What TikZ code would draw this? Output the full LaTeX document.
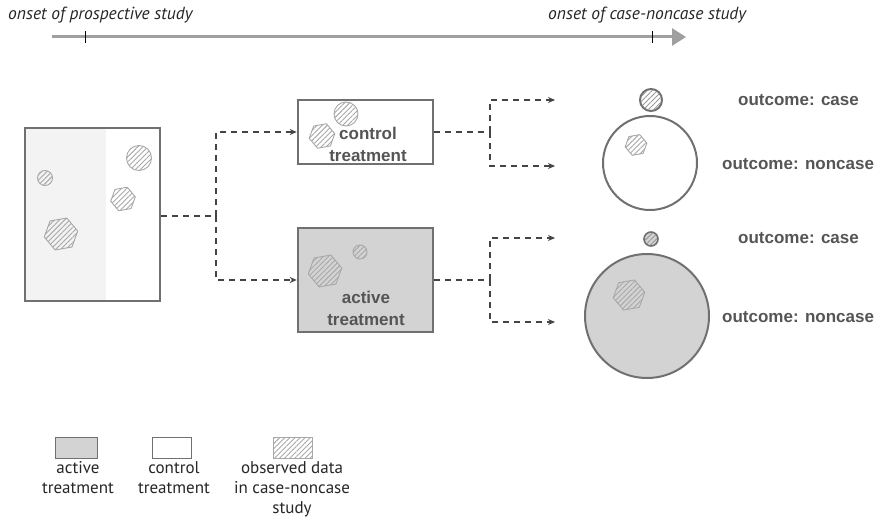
\documentclass[tikz,border=0pt]{standalone}
\usepackage{fontspec}
\setmainfont{Liberation Sans}
\newfontfamily\legfont{PT Sans}
\usetikzlibrary{shapes.geometric,patterns.meta,arrows.meta}
\definecolor{bordc}{HTML}{707070}
\definecolor{actfill}{HTML}{D3D3D3}
\definecolor{leftfill}{HTML}{F3F3F3}
\definecolor{txtc}{HTML}{555555}
\definecolor{dashc}{HTML}{444444}
\definecolor{hatchc}{HTML}{A8A8A8}
\tikzset{
  treatbox/.style={draw=bordc, line width=2.6pt, inner sep=0pt},
  hatched/.style={draw=hatchc, line width=0.9pt, pattern={Lines[angle=45,distance=3.6pt,line width=0.9pt]}, pattern color=hatchc},
  hexa/.style={hatched, regular polygon, regular polygon sides=6, inner sep=0pt, shape border rotate=10},
  blob/.style={hatched, circle, inner sep=0pt},
  outc/.style={draw=bordc, line width=2pt, circle, inner sep=0pt},
  conn/.style={draw=dashc, line width=1.1pt, dash pattern=on 6pt off 5pt},
  arr/.style={conn, -{Stealth[length=7pt,width=6pt]}},
  lbl/.style={text=txtc, font=\fontsize{17}{20}\selectfont\bfseries, inner sep=0pt},
  boxtxt/.style={text=txtc, font=\fontsize{17}{22}\selectfont\bfseries, align=center, inner sep=0pt},
  legtxt/.style={font=\legfont\fontsize{17}{20}\selectfont, align=center, inner sep=0pt, anchor=north, text=black!85},
  timetxt/.style={font=\legfont\itshape\fontsize{17.5}{20}\selectfont, inner sep=0pt, anchor=west, text=black!85},
  legbox/.style={draw=bordc, line width=1pt, minimum width=42pt, minimum height=21pt, inner sep=0pt}
}
\begin{document}
\begin{tikzpicture}[x=1pt,y=-1pt]
\useasboundingbox (0,0) rectangle (882,529);
% timeline
\node[timetxt] (t1) at (8,15) {onset of prospective study};
\node[timetxt] (t2) at (548,15) {onset of case-noncase study};
\coordinate (tl0) at (52,37);
\coordinate (tl1) at (686,37);
\draw[draw=gray!75, line width=3pt, -{Triangle[length=14pt,width=17pt]}] (tl0) -- (tl1);
\draw[line width=0.8pt] (85,31) -- (85,43);
\draw[line width=0.8pt] (652,31) -- (652,43);
% source box
\fill[leftfill] (25,128) rectangle (106,301);
\node[treatbox, minimum width=135pt, minimum height=173pt] (src) at (92.5,214.5) {};
\node[blob, minimum size=15pt] (s1) at (45,178) {};
\node[blob, minimum size=25pt] (s2) at (139,158) {};
\node[hexa, minimum size=25pt] (s3) at (123,199) {};
\node[hexa, minimum size=34pt] (s4) at (61,234) {};
% control box
\node[treatbox, fill=white, minimum width=135pt, minimum height=64pt] (ctrl) at (365.5,132) {};
\node[blob, minimum size=24pt] (c1) at (346,114) {};
\node[hexa, minimum size=26pt] (c2) at (322,136) {};
\node[boxtxt] (ctxt) at (368,144) {control\\treatment};
% active box
\node[treatbox, fill=actfill, minimum width=135pt, minimum height=104pt] (act) at (365.5,280) {};
\node[blob, minimum size=14pt] (a1) at (360,252) {};
\node[hexa, minimum size=34pt] (a2) at (325,271) {};
\node[boxtxt] (atxt) at (366,308) {active\\treatment};
% connectors level 1
\coordinate (j1) at (216,216);
\draw[conn] (src.east |- j1) -- (j1);
\draw[arr] (j1) |- (ctrl.west);
\draw[arr] (j1) |- (act.west);
% connectors level 2
\coordinate (j2) at (490,132);
\coordinate (e1) at (555,100);
\coordinate (e2) at (555,166);
\draw[conn] (ctrl.east) -- (j2);
\draw[arr] (j2) |- (e1);
\draw[arr] (j2) |- (e2);
\coordinate (j3) at (490,280);
\coordinate (e3) at (555,238);
\coordinate (e4) at (555,322);
\draw[conn] (act.east) -- (j3);
\draw[arr] (j3) |- (e3);
\draw[arr] (j3) |- (e4);
% outcome circles
\node[outc, fill=white, minimum size=22pt] (oc1) at (651,100) {};
\node[blob, draw=none, minimum size=20pt, pattern color=gray!80] at (651,100) {};
\node[outc, fill=white, minimum size=94pt] (on1) at (650,163) {};
\node[hexa, minimum size=22pt] (h1) at (636,145) {};
\node[outc, fill=actfill, minimum size=14pt, line width=1.6pt] (oc2) at (651,239) {};
\node[blob, draw=none, minimum size=12pt, pattern color=gray!80] at (651,239) {};
\node[outc, fill=actfill, minimum size=124pt] (on2) at (647,316) {};
\node[hexa, minimum size=32pt] (h2) at (629,295) {};
% outcome labels
\node[lbl, anchor=west] (l1) at (738,100) {outcome: case};
\node[lbl, anchor=west] (l2) at (722,164) {outcome: noncase};
\node[lbl, anchor=west] (l3) at (738,238) {outcome: case};
\node[lbl, anchor=west] (l4) at (722,317) {outcome: noncase};
% legend
\node[legbox, fill=actfill] (lg1) at (76.5,447.5) {};
\node[legbox, fill=white, minimum width=39pt] (lg2) at (171.5,447.5) {};
\node[legbox, draw=hatchc, minimum width=39pt, pattern={Lines[angle=45,distance=3.6pt,line width=0.9pt]}, pattern color=hatchc] (lg3) at (292.5,447.5) {};
\node[legtxt] (lt1) at (78,461) {active\\treatment};
\node[legtxt] (lt2) at (174,461) {control\\treatment};
\node[legtxt] (lt3) at (292,461) {observed data\\in case-noncase\\study};
\end{tikzpicture}
\end{document}
